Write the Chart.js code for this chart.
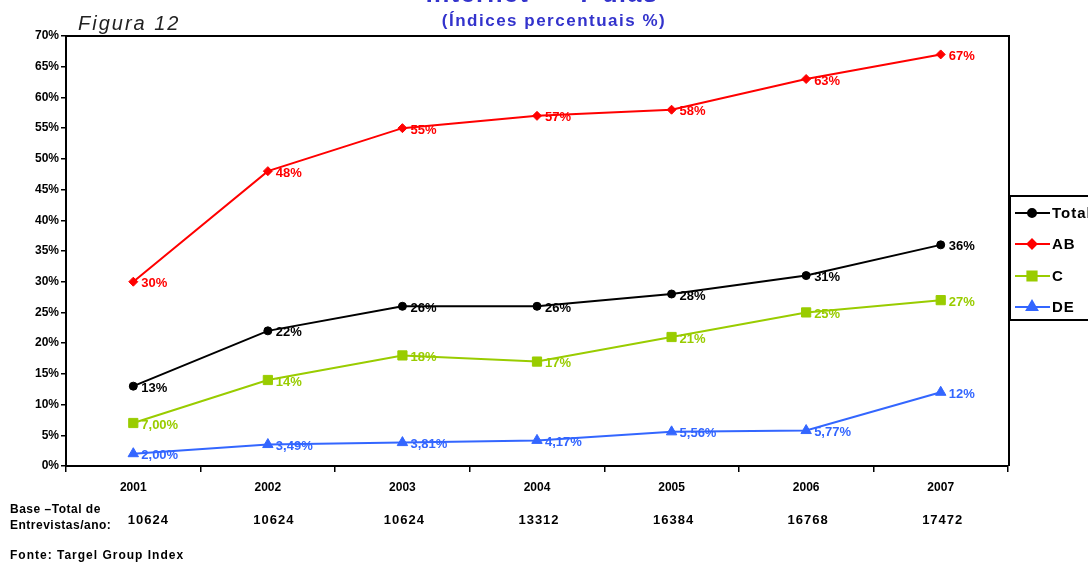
<!DOCTYPE html>
<html lang="pt">
<head>
<meta charset="utf-8">
<title>Internet – 7 dias</title>
<script src="https://cdn.jsdelivr.net/npm/chart.js@4.4.1/dist/chart.umd.min.js"></script>
<style>
  html, body { margin: 0; padding: 0; background: #ffffff; }
  #wrap { width: 1088px; height: 564px; overflow: hidden; }
  canvas { display: block; }
</style>
</head>
<body>
<div id="wrap"><canvas id="chart" width="1088" height="564"></canvas></div>
<script>
// Survey years and base sample per year
const years = ['2001', '2002', '2003', '2004', '2005', '2006', '2007'];
const baseTotals = ['10624', '10624', '10624', '13312', '16384', '16768', '17472'];

// Share of people using the internet in the last 7 days, by social class (%)
const totalValues = [13, 22, 26, 26, 28, 31, 36];
const abValues = [30, 48, 55, 57, 58, 63, 67];
const cValues = [7.00, 14, 18, 17, 21, 25, 27];
const deValues = [2.00, 3.49, 3.81, 4.17, 5.56, 5.77, 12];

// Decimal places shown in each point's value label
const totalDecimals = [0, 0, 0, 0, 0, 0, 0];
const abDecimals = [0, 0, 0, 0, 0, 0, 0];
const cDecimals = [2, 0, 0, 0, 0, 0, 0];
const deDecimals = [2, 2, 2, 2, 2, 2, 0];

// Y axis ticks (%)
const yTicks = [0, 5, 10, 15, 20, 25, 30, 35, 40, 45, 50, 55, 60, 65, 70];

const seriesNames = ['Total', 'AB', 'C', 'DE'];

const FONT = 'Arial, "Liberation Sans", sans-serif';

function fmtPct(v, d) {
  return v.toFixed(d).replace('.', ',') + '%';
}

function makeSet(label, data, decimals, color, pointStyle, radius) {
  return {
    label: label,
    data: data,
    decimals: decimals,
    borderColor: color,
    backgroundColor: color,
    borderWidth: 2,
    pointStyle: pointStyle,
    pointRadius: radius,
    pointHoverRadius: radius,
    pointBorderWidth: 1,
    pointBackgroundColor: color,
    pointBorderColor: color,
    tension: 0,
    fill: false
  };
}

const datasets = [
  makeSet(seriesNames[0], totalValues, totalDecimals, '#000000', 'circle', 4),
  makeSet(seriesNames[1], abValues, abDecimals, '#ff0000', 'rectRot', 4.5),
  makeSet(seriesNames[2], cValues, cDecimals, '#99cc00', 'rect', 6.5),
  makeSet(seriesNames[3], deValues, deDecimals, '#3366ff', 'triangle', 6)
];

// Value labels to the right of each point
const valueLabels = {
  id: 'valueLabels',
  afterDatasetsDraw(chart) {
    const ctx = chart.ctx;
    ctx.save();
    ctx.font = 'bold 13px ' + FONT;
    ctx.textBaseline = 'middle';
    ctx.textAlign = 'left';
    chart.data.datasets.forEach((ds, i) => {
      const meta = chart.getDatasetMeta(i);
      ctx.fillStyle = ds.borderColor;
      meta.data.forEach((pt, j) => {
        ctx.fillText(fmtPct(ds.data[j], ds.decimals[j]), pt.x + 8, pt.y + 2);
      });
    });
    ctx.restore();
  }
};

// Frame, titles, legend box and the base table under the axis
const decorations = {
  id: 'decorations',
  beforeDraw(chart) {
    const ctx = chart.ctx;
    ctx.save();
    ctx.fillStyle = '#ffffff';
    ctx.fillRect(0, 0, chart.width, chart.height);
    ctx.restore();
  },
  afterDraw(chart) {
    const ctx = chart.ctx;
    const a = chart.chartArea;
    const x = chart.scales.x;
    ctx.save();

    // top and right edges of the plot frame
    ctx.strokeStyle = '#000000';
    ctx.lineWidth = 2;
    ctx.beginPath();
    ctx.moveTo(a.left - 1, a.top);
    ctx.lineTo(a.right + 1, a.top);
    ctx.lineTo(a.right + 1, a.bottom);
    ctx.stroke();

    // titles
    ctx.fillStyle = '#3333cc';
    ctx.textAlign = 'center';
    ctx.textBaseline = 'alphabetic';
    ctx.font = 'bold 25px ' + FONT;
    ctx.letterSpacing = '1.5px';
    ctx.fillText('Internet  –  7 dias', 542, 2);
    ctx.font = 'bold 17px ' + FONT;
    ctx.letterSpacing = '1.5px';
    ctx.fillText('(Índices percentuais %)', 554, 26);
    ctx.letterSpacing = '0px';

    ctx.fillStyle = '#222222';
    ctx.textAlign = 'left';
    ctx.font = 'italic 20px ' + FONT;
    ctx.letterSpacing = '2px';
    ctx.fillText('Figura 12', 78, 30);
    ctx.letterSpacing = '0px';

    // legend
    const lx = 1010, ly = 196, lh = 124;
    ctx.strokeStyle = '#000000';
    ctx.lineWidth = 2;
    ctx.strokeRect(lx, ly, 120, lh);
    const rows = [213, 244, 276, 307];
    chart.data.datasets.forEach((ds, i) => {
      const y = rows[i];
      ctx.strokeStyle = ds.borderColor;
      ctx.lineWidth = 2;
      ctx.beginPath();
      ctx.moveTo(1015, y);
      ctx.lineTo(1050, y);
      ctx.stroke();
      Chart.helpers.drawPoint(ctx, {
        pointStyle: ds.pointStyle,
        radius: ds.pointRadius,
        borderWidth: 1
      }, 1032, y);
      ctx.fillStyle = ds.borderColor;
      ctx.fill();
      ctx.fillStyle = '#000000';
      ctx.font = 'bold 15px ' + FONT;
      ctx.textBaseline = 'middle';
      ctx.letterSpacing = '1px';
      ctx.fillText(ds.label, 1052, y + 1);
      ctx.letterSpacing = '0px';
    });

    // base table
    ctx.fillStyle = '#000000';
    ctx.textBaseline = 'middle';
    ctx.textAlign = 'left';
    ctx.font = 'bold 12px ' + FONT;
    ctx.letterSpacing = '0.5px';
    ctx.fillText('Base –Total de', 10, 510);
    ctx.fillText('Entrevistas/ano:', 10, 526);
    ctx.letterSpacing = '1px';
    ctx.fillText('Fonte: Targel Group Index', 10, 556);
    ctx.textAlign = 'center';
    ctx.font = 'bold 13px ' + FONT;
    ctx.letterSpacing = '1px';
    baseTotals.forEach((t, i) => {
      const px = x.getPixelForValue(i) + (i === 0 ? 15 : (i === 1 ? 6 : 2));
      ctx.fillText(t, px, 520);
    });
    ctx.restore();
  }
};

new Chart(document.getElementById('chart'), {
  type: 'line',
  data: { labels: years, datasets: datasets },
  options: {
    responsive: false,
    devicePixelRatio: 1,
    animation: false,
    events: [],
    layout: { padding: { top: 36, right: 80, bottom: 0, left: 0 } },
    plugins: {
      legend: { display: false },
      title: { display: false },
      tooltip: { enabled: false }
    },
    scales: {
      x: {
        type: 'category',
        offset: true,
        afterFit(scale) { scale.height = 98; },
        border: { display: true, color: '#000000', width: 2 },
        grid: {
          offset: true,
          drawOnChartArea: false,
          drawTicks: true,
          tickLength: 6,
          color: '#000000',
          lineWidth: 1.5
        },
        ticks: {
          color: '#000000',
          font: { family: FONT, size: 12, weight: 'bold' },
          padding: 8,
          maxRotation: 0,
          autoSkip: false
        }
      },
      y: {
        min: 0,
        max: 70,
        afterFit(scale) { scale.width = 66; },
        afterBuildTicks(scale) { scale.ticks = yTicks.map(v => ({ value: v })); },
        border: { display: true, color: '#000000', width: 2 },
        grid: {
          drawOnChartArea: false,
          drawTicks: true,
          tickLength: 5,
          color: '#000000',
          lineWidth: 1.5
        },
        ticks: {
          color: '#000000',
          font: { family: FONT, size: 12, weight: 'bold' },
          padding: 2,
          callback: v => v + '%'
        }
      }
    }
  },
  plugins: [decorations, valueLabels]
});
</script>
</body>
</html>
